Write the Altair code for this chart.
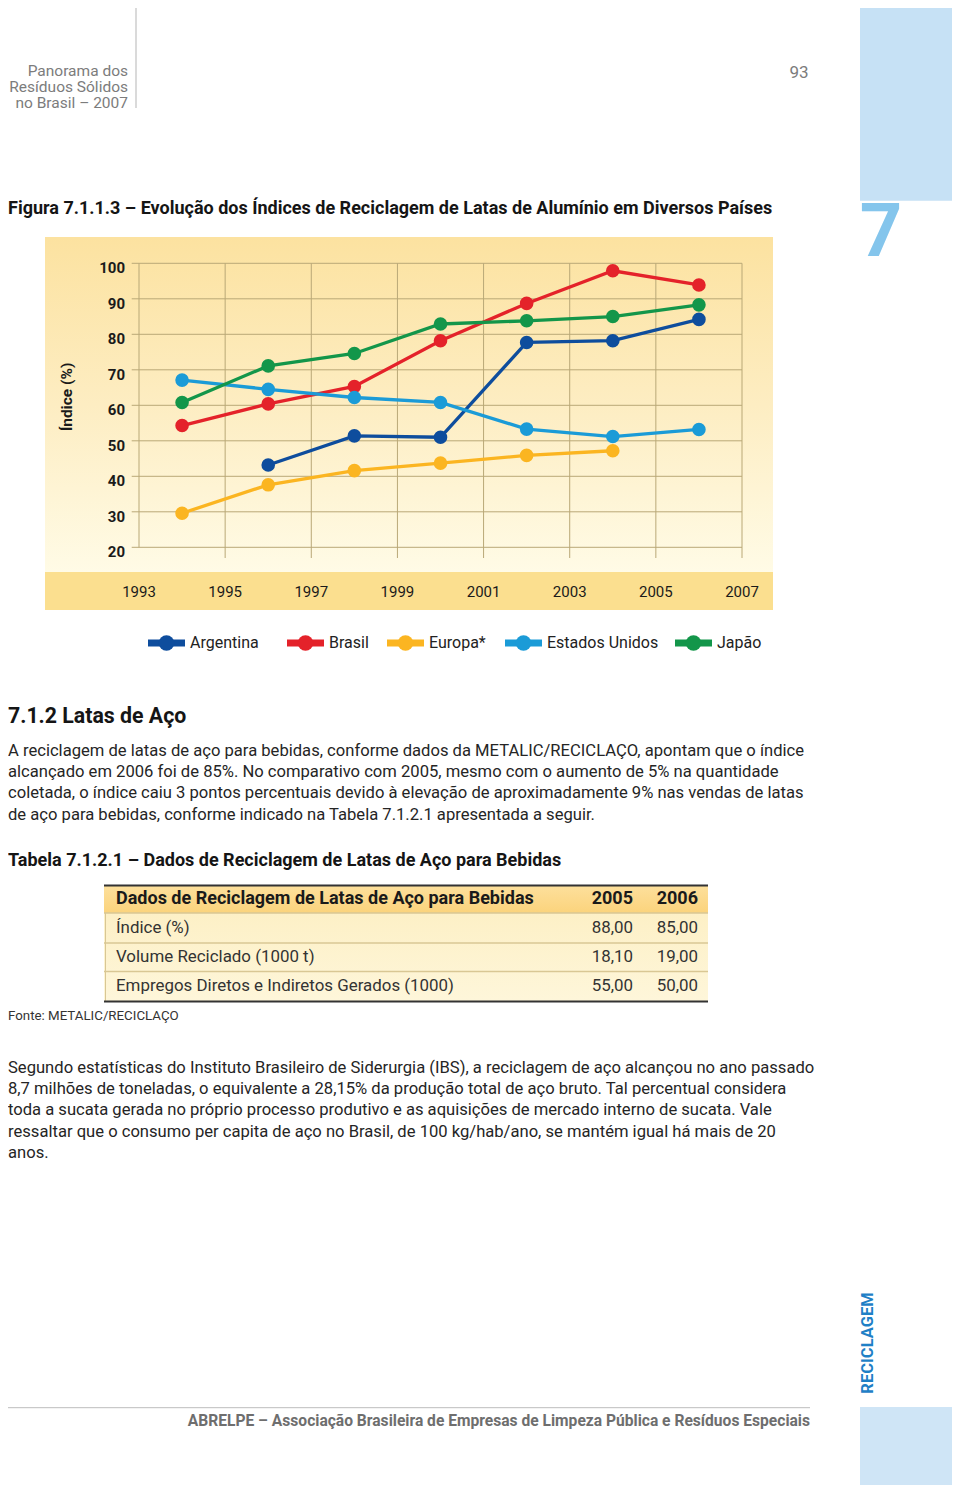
import altair as alt
import pandas as pd

OFF = 8
W, H = 944, 1477


def px(v):
    return v - OFF


FONT = "Roboto"

# ---------------- data ----------------
years = [1994, 1996, 1998, 2000, 2002, 2004, 2006]
countries = ["Argentina", "Brasil", "Europa*", "Estados Unidos", "Japão"]
argentina = [None, 43.2, 51.4, 51.0, 77.7, 78.2, 84.2]
brasil = [54.3, 60.4, 65.3, 78.2, 88.7, 97.9, 93.9]
europa = [29.6, 37.6, 41.6, 43.7, 45.9, 47.2, None]
estados_unidos = [67.1, 64.5, 62.2, 60.8, 53.3, 51.2, 53.2]
japao = [60.8, 71.1, 74.6, 82.9, 83.8, 85.0, 88.3]
x_ticks = [1993, 1995, 1997, 1999, 2001, 2003, 2005, 2007]
y_ticks = [20, 30, 40, 50, 60, 70, 80, 90, 100]

table_header = ["Dados de Reciclagem de Latas de Aço para Bebidas", "2005", "2006"]
table_labels = ["Índice (%)", "Volume Reciclado (1000 t)", "Empregos Diretos e Indiretos Gerados (1000)"]
table_2005 = ["88,00", "18,10", "55,00"]
table_2006 = ["85,00", "19,00", "50,00"]

caption = "Figura 7.1.1.3 – Evolução dos Índices de Reciclagem de Latas de Alumínio em Diversos Países"
section = "7.1.2 Latas de Aço"
para1 = [
    "A reciclagem de latas de aço para bebidas, conforme dados da METALIC/RECICLAÇO, apontam que o índice",
    "alcançado em 2006 foi de 85%. No comparativo com 2005, mesmo com o aumento de 5% na quantidade",
    "coletada, o índice caiu 3 pontos percentuais devido à elevação de aproximadamente 9% nas vendas de latas",
    "de aço para bebidas, conforme indicado na Tabela 7.1.2.1 apresentada a seguir.",
]
table_title = "Tabela 7.1.2.1 – Dados de Reciclagem de Latas de Aço para Bebidas"
source = "Fonte: METALIC/RECICLAÇO"
para2 = [
    "Segundo estatísticas do Instituto Brasileiro de Siderurgia (IBS), a reciclagem de aço alcançou no ano passado",
    "8,7 milhões de toneladas, o equivalente a 28,15% da produção total de aço bruto. Tal percentual considera",
    "toda a sucata gerada no próprio processo produtivo e as aquisições de mercado interno de sucata. Vale",
    "ressaltar que o consumo per capita de aço no Brasil, de 100 kg/hab/ano, se mantém igual há mais de 20",
    "anos.",
]
header_lines = ["Panorama dos", "Resíduos Sólidos", "no Brasil – 2007"]
page_number = "93"
chapter = "7"
side_label = "RECICLAGEM"
footer = "ABRELPE – Associação Brasileira de Empresas de Limpeza Pública e Resíduos Especiais"

# ---------------- styles / layout ----------------
series_colors = ["#0e4d9d", "#e4222a", "#fbb521", "#1b9bd7", "#13964a"]
GRID = "#b9a877"
TXT = "#252525"
BODY = 16.6
legend_left = [148, 287, 387, 505, 675]   # page x of each legend symbol
LEG_W = 37
LEG_Y = 643

rows = []
for name, vals in zip(countries, [argentina, brasil, europa, estados_unidos, japao]):
    for y, v in zip(years, vals):
        if v is not None:
            rows.append({"country": name, "year": y, "value": v})
df = pd.DataFrame(rows)

XS = alt.Scale(domain=[1993, 2007], range=[px(139), px(742)], nice=False, zero=False)
YS = alt.Scale(domain=[20, 100], range=[px(547.3), px(263.3)], nice=False, zero=False)

dummy = alt.Data(values=[{"k": 1}])

layers = []


def rect(x1, x2, y1, y2, fill):
    return alt.Chart(dummy).mark_rect(fill=fill, strokeWidth=0).encode(
        x=alt.value(x1), x2=alt.value(x2), y=alt.value(y1), y2=alt.value(y2)
    )


def rule(x1, x2, y1, y2, color, width):
    return alt.Chart(dummy).mark_rule(color=color, strokeWidth=width).encode(
        x=alt.value(x1), x2=alt.value(x2), y=alt.value(y1), y2=alt.value(y2)
    )


def text(t, x, y, size, weight="normal", color=TXT, align="left", baseline="middle", angle=0, line_height=None):
    kw = dict(text=t, font=FONT, fontSize=size, fontWeight=weight, color=color,
              align=align, baseline=baseline)
    if angle:
        kw["angle"] = angle
    if line_height:
        kw["lineHeight"] = line_height
    return alt.Chart(dummy).mark_text(**kw).encode(x=alt.value(x), y=alt.value(y))


# side strip
layers.append(rect(px(860), W, 0, px(200.7), "#c6e1f5"))
layers.append(rect(px(860), W, px(1407), H, "#cfe5f6"))
layers.append(text(chapter, px(881), px(234), 74, "bold", "#84c5ec", align="center"))
layers.append(text(side_label, px(868), px(1343), 16.5, "bold", "#1f80c6", align="center", angle=270))

# page header
layers.append(rule(px(136), px(136), 0, px(108), "#b5b5b5", 1))
for i, line in enumerate(header_lines):
    layers.append(text(line, px(128), px(71 + 16 * i), 15.5, "normal", "#7c7c7c", align="right"))
layers.append(text(page_number, px(799), px(73), 17, "normal", "#7c7c7c", align="center"))

# caption
layers.append(text(caption, 0, px(209), 18, "bold", "#151515"))

# chart panel background
panel_grad = alt.Gradient(
    gradient="linear",
    stops=[alt.GradientStop(offset=0, color="#fce2a0"),
           alt.GradientStop(offset=0.5, color="#fdedc2"),
           alt.GradientStop(offset=1, color="#fffbe6")],
    x1=0, x2=0, y1=0, y2=1,
)
layers.append(rect(px(45), px(773), px(237), px(572), panel_grad))
layers.append(rect(px(45), px(773), px(572), px(610), "#fbdf8f"))

# gridlines
layers.append(
    alt.Chart(pd.DataFrame({"value": y_ticks})).mark_rule(color=GRID, strokeWidth=1).encode(
        y=alt.Y("value:Q", scale=YS, axis=None), x=alt.value(px(131.7)), x2=alt.value(px(742))
    )
)
layers.append(
    alt.Chart(pd.DataFrame({"year": x_ticks[1:]})).mark_rule(color=GRID, strokeWidth=1).encode(
        x=alt.X("year:Q", scale=XS, axis=None), y=alt.value(px(263.3)), y2=alt.value(px(558))
    )
)
layers.append(
    alt.Chart(pd.DataFrame({"year": x_ticks[:1]})).mark_rule(color=GRID, strokeWidth=1).encode(
        x=alt.X("year:Q", scale=XS, axis=None), y=alt.value(px(263.3)), y2=alt.value(px(547.3))
    )
)

# tick labels
layers.append(
    alt.Chart(pd.DataFrame({"value": y_ticks})).mark_text(
        font=FONT, fontSize=15, fontWeight="bold", color="#1a1a1a", align="right", baseline="middle", dy=5
    ).encode(y=alt.Y("value:Q", scale=YS, axis=None), x=alt.value(px(125)), text=alt.Text("value:Q"))
)
layers.append(
    alt.Chart(pd.DataFrame({"year": x_ticks})).mark_text(
        font=FONT, fontSize=15, color="#1a1a1a", align="center", baseline="middle"
    ).encode(x=alt.X("year:Q", scale=XS, axis=None), y=alt.value(px(592)), text=alt.Text("year:Q", format="d"))
)
layers.append(text("Índice (%)", px(67), px(397), 15.5, "bold", "#1a1a1a", align="center", angle=270))

# series
CS = alt.Scale(domain=countries, range=series_colors)
layers.append(
    alt.Chart(df).mark_line(strokeWidth=3.3).encode(
        x=alt.X("year:Q", scale=XS, axis=None),
        y=alt.Y("value:Q", scale=YS, axis=None),
        color=alt.Color("country:N", scale=CS, legend=None),
    )
)
layers.append(
    alt.Chart(df).mark_point(filled=True, size=185, opacity=1).encode(
        x=alt.X("year:Q", scale=XS, axis=None),
        y=alt.Y("value:Q", scale=YS, axis=None),
        color=alt.Color("country:N", scale=CS, legend=None),
    )
)

# legend (drawn item by item, colours through the same colour scale)
for name, left in zip(countries, legend_left):
    item = pd.DataFrame({"country": [name]})
    col = alt.Color("country:N", scale=CS, legend=None)
    layers.append(
        alt.Chart(item).mark_rule(strokeWidth=7).encode(
            x=alt.value(px(left)), x2=alt.value(px(left + LEG_W)),
            y=alt.value(px(LEG_Y)), color=col,
        )
    )
    layers.append(
        alt.Chart(item).mark_point(filled=True, size=240, opacity=1).encode(
            x=alt.value(px(left + LEG_W / 2)), y=alt.value(px(LEG_Y)), color=col,
        )
    )
    layers.append(
        alt.Chart(item).mark_text(font=FONT, fontSize=16, color="#222222", align="left", baseline="middle").encode(
            x=alt.value(px(left + LEG_W + 5)), y=alt.value(px(LEG_Y)), text="country:N",
        )
    )

# section text
layers.append(text(section, 0, px(717), 21.3, "bold", "#151515"))
layers.append(text(para1, 0, px(751 - 0.49 * BODY), BODY, "normal", TXT, baseline="top", line_height=21.3))
layers.append(text(table_title, 0, px(861), 18, "bold", "#151515"))

# table
hdr_grad = alt.Gradient(
    gradient="linear",
    stops=[alt.GradientStop(offset=0, color="#fde09c"), alt.GradientStop(offset=1, color="#fbd37c")],
    x1=0, x2=0, y1=0, y2=1,
)
row_grad = alt.Gradient(
    gradient="linear",
    stops=[alt.GradientStop(offset=0, color="#fdf0c6"), alt.GradientStop(offset=1, color="#fef6da")],
    x1=0, x2=0, y1=0, y2=1,
)
layers.append(rect(px(104), px(708), px(885.5), px(913), hdr_grad))
layers.append(rect(px(104), px(708), px(913), px(1001.5), row_grad))
for yy in [913, 943, 971.5]:
    layers.append(rule(px(104), px(708), px(yy), px(yy), "#d9c794", 1.3))
layers.append(rule(px(105.5), px(105.5), px(913), px(1001), "#d9c794", 1))
layers.append(rule(px(104), px(708), px(885.5), px(885.5), "#333333", 2.2))
layers.append(rule(px(104), px(708), px(1001.5), px(1001.5), "#333333", 2.2))

layers.append(text(table_header[0], px(116), px(899), 18, "bold", "#1a1a1a"))
layers.append(text(table_header[1], px(633), px(899), 18, "bold", "#1a1a1a", align="right"))
layers.append(text(table_header[2], px(698), px(899), 18, "bold", "#1a1a1a", align="right"))
row_y = [928, 957, 986]
for yy, lab, a, b in zip(row_y, table_labels, table_2005, table_2006):
    layers.append(text(lab, px(116), px(yy), 16.9, "normal", "#333333"))
    layers.append(text(a, px(633), px(yy), 16.9, "normal", "#333333", align="right"))
    layers.append(text(b, px(698), px(yy), 16.9, "normal", "#333333", align="right"))

layers.append(text(source, 0, px(1016), 13.3, "normal", "#333333"))
layers.append(text(para2, 0, px(1068 - 0.49 * BODY), BODY, "normal", TXT, baseline="top", line_height=21.25))

# footer
layers.append(rule(0, px(810), px(1407.7), px(1407.7), "#bdbdbd", 1))
layers.append(text(footer, px(810), px(1421), 15.6, "bold", "#6e6e6e", align="right"))

chart = alt.layer(*layers).properties(
    width=W, height=H, padding=0, background="white", autosize=alt.AutoSizeParams(type="none")
).configure_view(strokeWidth=0)

chart.save("out.html", embed_options={"renderer": "svg", "actions": False})
